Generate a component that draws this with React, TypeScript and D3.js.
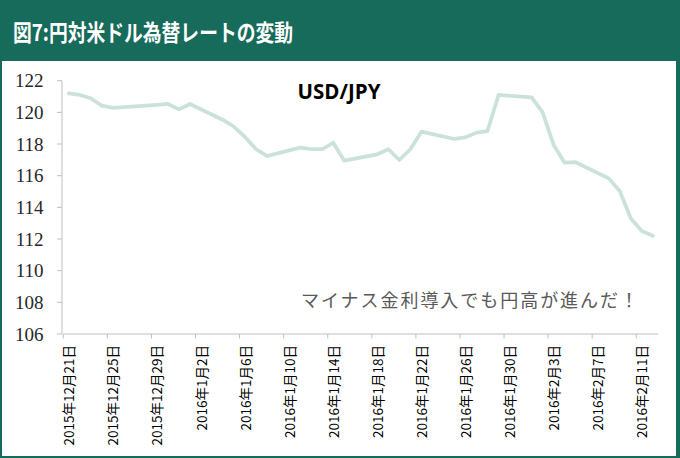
import React from "react";
import * as d3 from "d3";

const W = 680;
const H = 458;

const titleText = "図7:円対米ドル為替レートの変動";
const seriesName = "USD/JPY";
const noteText = "マイナス金利導入でも円高が進んだ！";

const dates = [
  "2015-12-21", "2015-12-22", "2015-12-23", "2015-12-24", "2015-12-25",
  "2015-12-28", "2015-12-29", "2015-12-30", "2015-12-31", "2016-01-01",
  "2016-01-04", "2016-01-05", "2016-01-06", "2016-01-07", "2016-01-08",
  "2016-01-11", "2016-01-12", "2016-01-13", "2016-01-14", "2016-01-15",
  "2016-01-18", "2016-01-19", "2016-01-20", "2016-01-21", "2016-01-22",
  "2016-01-25", "2016-01-26", "2016-01-27", "2016-01-28", "2016-01-29",
  "2016-02-01", "2016-02-02", "2016-02-03", "2016-02-04", "2016-02-05",
  "2016-02-08", "2016-02-09", "2016-02-10", "2016-02-11", "2016-02-12",
];

const usdJpy = [
  121.2, 121.1, 120.89, 120.42, 120.29,
  120.42, 120.47, 120.53, 120.19, 120.53,
  119.52, 119.09, 118.43, 117.67, 117.24,
  117.77, 117.67, 117.67, 118.08, 116.95,
  117.35, 117.67, 116.99, 117.67, 118.78,
  118.32, 118.42, 118.72, 118.82, 121.1,
  120.95, 120.0, 117.94, 116.82, 116.85,
  115.83, 115.03, 113.31, 112.51, 112.21,
];

const xTickDates = [
  "2015-12-21", "2015-12-25", "2015-12-29", "2016-01-02", "2016-01-06",
  "2016-01-10", "2016-01-14", "2016-01-18", "2016-01-22", "2016-01-26",
  "2016-01-30", "2016-02-03", "2016-02-07", "2016-02-11",
];

const yTicks = [106, 108, 110, 112, 114, 116, 118, 120, 122];

const axisStart = "2015-12-21";
const axisEnd = "2016-02-13";

const parse = (s: string) => new Date(s + "T00:00:00Z");
const halfDay = 12 * 3600 * 1000;
const fmtLabel = (s: string) => {
  const d = parse(s);
  return `${d.getUTCFullYear()}年${d.getUTCMonth() + 1}月${d.getUTCDate()}日`;
};

export default function App() {
  const x = d3
    .scaleUtc()
    .domain([parse(axisStart), parse(axisEnd)])
    .range([63.3, 658.3]);
  const y = d3.scaleLinear().domain([106, 122]).range([334, 80.7]);

  const pts = dates.map((d, i) => ({ d: parse(d), v: usdJpy[i] }));
  const line = d3
    .line<{ d: Date; v: number }>()
    .x((p) => x(new Date(p.d.getTime() + halfDay)))
    .y((p) => y(p.v));

  const green = "#176b5b";
  const axisColor = "#bfbfbf";

  return (
    <svg
      width={W}
      height={H}
      style={{ position: "absolute", left: 0, top: 0, display: "block" }}
    >
      <rect x={0} y={0} width={W} height={H} fill={green} />
      <rect x={2} y={61} width={674} height={395} fill="#ffffff" />
      <text
        x={13}
        y={40.5}
        fill="#ffffff"
        fontFamily="'Noto Sans CJK JP', sans-serif"
        fontWeight="bold"
        fontSize={23}
        textLength={280}
        lengthAdjust="spacingAndGlyphs"
      >
        {titleText}
      </text>

      {/* y axis */}
      <line x1={62} x2={62} y1={y(122)} y2={y(106)} stroke={axisColor} strokeWidth={1} />
      {yTicks.map((t) => (
        <g key={t}>
          <line x1={57} x2={62} y1={y(t)} y2={y(t)} stroke={axisColor} strokeWidth={1} />
          <text
            x={43.5}
            y={y(t)}
            dy="0.35em"
            textAnchor="end"
            fontFamily="'Liberation Serif', serif"
            fontSize={19}
            fill="#262626"
          >
            {t}
          </text>
        </g>
      ))}

      {/* x axis */}
      <line x1={x.range()[0]} x2={x.range()[1]} y1={334} y2={334} stroke={axisColor} strokeWidth={1} />
      {xTickDates.map((s) => {
        const tx = x(parse(s));
        const lx = x(new Date(parse(s).getTime() + halfDay));
        return (
          <g key={s}>
            <line x1={tx} x2={tx} y1={334} y2={338.5} stroke={axisColor} strokeWidth={1} />
            <text
              transform={`translate(${lx - 0.5},345) rotate(-90)`}
              textAnchor="end"
              dominantBaseline="central"
              fontFamily="'Noto Sans CJK JP', sans-serif"
              fontSize={13.5}
              fill="#000000"
            >
              {fmtLabel(s)}
            </text>
          </g>
        );
      })}

      {/* series */}
      <path
        d={line(pts) || ""}
        fill="none"
        stroke="#cbe2db"
        strokeWidth={3.75}
        strokeLinejoin="round"
        strokeLinecap="round"
      />

      <text
        x={339}
        y={98.5}
        textAnchor="middle"
        fontFamily="'Open Sans', sans-serif"
        fontWeight="bold"
        fontSize={20.5}
        fill="#000000"
      >
        {seriesName}
      </text>

      <text
        x={301}
        y={307}
        fontFamily="'Noto Sans CJK JP', sans-serif"
        fontSize={18}
        fill="#595959"
        textLength={337}
        lengthAdjust="spacing"
      >
        {noteText}
      </text>
    </svg>
  );
}
